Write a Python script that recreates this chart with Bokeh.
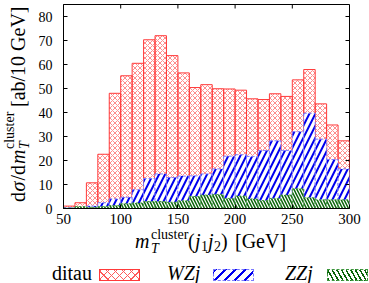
import numpy as np
from bokeh.plotting import figure
from bokeh.models import Range1d, FixedTicker, ColumnDataSource, Div
from bokeh.layouts import column, row
from bokeh.embed import file_html
from bokeh.resources import INLINE

# ---------------- data ----------------
bin_low = [50, 60, 70, 80, 90, 100, 110, 120, 130, 140, 150, 160, 170, 180, 190,
           200, 210, 220, 230, 240, 250, 260, 270, 280, 290]
bin_width = 10
ditau = [1.0, 2.4, 10.7, 22.6, 48.0, 55.3, 60.5, 70.3, 72.0, 63.7, 56.5, 50.4, 51.6,
         49.9, 49.8, 49.3, 45.7, 45.4, 47.8, 46.7, 53.6, 57.9, 43.6, 34.8, 28.2]
wzj = [0.3, 0.4, 1.0, 2.4, 4.0, 4.7, 7.8, 12.5, 14.4, 12.9, 13.5, 13.6, 14.4, 16.5,
       21.8, 22.4, 21.7, 24.2, 28.2, 24.2, 32.0, 39.7, 28.9, 20.4, 16.5]
zzj = [0.2, 0.8, 0.5, 0.8, 1.2, 2.0, 2.3, 2.9, 2.9, 2.6, 3.2, 5.0, 5.6, 5.8, 4.2,
       5.2, 4.0, 3.3, 4.2, 5.6, 8.2, 4.5, 3.6, 3.6, 3.6]
x_ticks = [50, 100, 150, 200, 250, 300]
y_ticks = [0, 10, 20, 30, 40, 50, 60, 70, 80]
legend_labels = ["ditau", "WZj", "ZZj"]

# ---------------- layout ----------------
FONT = "Liberation Serif"
TOTAL_W, TOTAL_H = 369, 283
YL_W = 32                      # strip holding the rotated y label
MAIN_W = TOTAL_W - YL_W
MAIN_H = 230
BOT_H = TOTAL_H - MAIN_H
BL, BR, BT, BB = 31, 20, 4, 22
X0, X1 = 50, 300
Y0, Y1 = 0, 85
fw = MAIN_W - BL - BR
fh = MAIN_H - BT - BB

RED_LINE, RED_HATCH = "#ff3a3a", "#ff5a5a"
BLUE_LINE, BLUE_HATCH = "#7a7aff", "#0000ee"
GREEN_LINE, GREEN_HATCH = "#3c963c", "#0a640a"

red_style = dict(fill_color=None, line_color=RED_LINE, line_width=1,
                 hatch_pattern="x", hatch_color=RED_HATCH, hatch_scale=5,
                 hatch_weight=0.7)
blue_style = dict(fill_color="white", line_color=BLUE_LINE, line_width=1,
                  line_dash="3 2", hatch_pattern="/", hatch_color=BLUE_HATCH,
                  hatch_scale=12, hatch_weight=2)
green_style = dict(fill_color="white", line_color=GREEN_LINE, line_width=1,
                   line_dash="2 2", hatch_pattern="\\", hatch_color=GREEN_HATCH,
                   hatch_scale=6, hatch_weight=1.5)

# ---------------- main chart ----------------
p = figure(width=MAIN_W, height=MAIN_H, x_range=Range1d(X0, X1), y_range=Range1d(Y0, Y1),
           output_backend="svg", toolbar_location=None,
           min_border_left=BL, min_border_right=BR, min_border_top=BT,
           min_border_bottom=BB)
p.grid.visible = False
p.outline_line_color = "black"
p.outline_line_width = 1
p.background_fill_color = "white"
p.border_fill_color = "white"

src = ColumnDataSource(dict(
    left=bin_low,
    right=[b + bin_width for b in bin_low],
    ditau=ditau, wzj=wzj, zzj=zzj,
))
p.quad(left="left", right="right", bottom=0, top="ditau", source=src, **red_style)
p.quad(left="left", right="right", bottom=0, top="wzj", source=src, **blue_style)
p.quad(left="left", right="right", bottom=0, top="zzj", source=src, **green_style)

for ax, ticks, size, standoff in ((p.xaxis, x_ticks, "15px", 5), (p.yaxis, y_ticks, "14px", 11)):
    ax.ticker = FixedTicker(ticks=ticks)
    ax.major_tick_in = 4
    ax.major_tick_out = 0
    ax.minor_tick_in = 0
    ax.minor_tick_out = 0
    ax.axis_line_color = "black"
    ax.major_tick_line_color = "black"
    ax.major_label_text_font = FONT
    ax.major_label_text_font_size = size
    ax.major_label_text_color = "black"
    ax.major_label_standoff = standoff

# mirrored ticks on top and right
tick_dy = 4 * (Y1 - Y0) / fh
tick_dx = 4 * (X1 - X0) / fw
p.segment(x0=x_ticks, y0=[Y1] * len(x_ticks), x1=x_ticks, y1=[Y1 - tick_dy] * len(x_ticks),
          line_color="black", line_width=1)
p.segment(x0=[X1] * len(y_ticks), y0=y_ticks, x1=[X1 - tick_dx] * len(y_ticks), y1=y_ticks,
          line_color="black", line_width=1)

# ---------------- HTML text helpers ----------------
ASC = 0.8375   # baseline offset (fraction of font size) with line-height 1


def span(left, baseline, text, size=20, italic=False):
    top = baseline - ASC * size
    st = "italic" if italic else "normal"
    return (f'<span style="position:absolute;left:{left:.1f}px;top:{top:.1f}px;'
            f'font-size:{size}px;line-height:1;font-style:{st};white-space:nowrap">'
            f'{text}</span>')


def box(left, top, w, h, border, background):
    return (f'<span style="position:absolute;left:{left}px;top:{top}px;width:{w}px;'
            f'height:{h}px;box-sizing:border-box;border:{border};'
            f'background:{background}"></span>')


def wrap(inner, w, h, extra=""):
    return (f'<div style="position:relative;width:{w}px;height:{h}px;margin:0;padding:0;'
            f'font-family:\'{FONT}\',serif;color:black;overflow:visible;{extra}">'
            f'{inner}</div>')


div_css = {"margin": "0", "padding": "0", "overflow": "visible"}

# ---------------- y label (rotated) ----------------
# local coordinates of the rotated box: u = MAIN_H - page_y, v = page_x
def yspan(page_x_base, page_y_start, text, size=20, italic=False):
    return span(MAIN_H - page_y_start, page_x_base, text, size, italic)


yb = 25
ypieces = "".join([
    yspan(yb, 202, "d"),
    yspan(yb, 191.5, "σ", italic=True),
    yspan(yb, 180.5, "/d"),
    yspan(yb, 164, "m", italic=True),
    yspan(yb + 5, 149, "T", size=14, italic=True),
    yspan(yb - 10, 149, "cluster", size=14),
    yspan(yb, 107, "[ab/10 GeV]"),
])
rot = (f'<div style="position:absolute;left:0;top:{MAIN_H}px;width:{MAIN_H}px;height:{YL_W}px;'
       f'transform-origin:0 0;transform:rotate(-90deg)">{ypieces}</div>')
ydiv = Div(text=wrap(rot, YL_W, MAIN_H), width=YL_W, height=MAIN_H,
           margin=(0, 0, 0, 0), styles=div_css)

# ---------------- x label + legend ----------------
OX, OY = YL_W, MAIN_H   # page offset of the bottom strip


def bspan(px, py, text, size=20, italic=False):
    return span(px - OX, py - OY, text, size, italic)


xb = 248
pieces = [
    bspan(135, xb, "m", italic=True),
    bspan(151, xb + 6, "T", size=14, italic=True),
    bspan(151, xb - 8.5, "cluster", size=14),
    bspan(188, xb, "("),
    bspan(195, xb, "j", italic=True),
    bspan(201, xb + 4, "1", size=14),
    bspan(208, xb, "j", italic=True),
    bspan(214, xb + 4, "2", size=14),
    bspan(221, xb, ")"),
    bspan(235, xb, "[GeV]"),
]

red_bg = (f"repeating-linear-gradient(45deg,{RED_HATCH} 0 0.8px,transparent 0.8px 5.6px),"
          f"repeating-linear-gradient(-45deg,{RED_HATCH} 0 0.8px,transparent 0.8px 5.6px),white")
blue_bg = f"repeating-linear-gradient(135deg,{BLUE_HATCH} 0 2px,transparent 2px 7px),white"
green_bg = f"repeating-linear-gradient(60deg,{GREEN_HATCH} 0 1.5px,transparent 1.5px 4px),white"
swatches = [
    (f"1px solid {RED_LINE}", red_bg),
    (f"1px dashed {BLUE_LINE}", blue_bg),
    (f"1px dashed {GREEN_LINE}", green_bg),
]
text_x = [52, 167, 285]
box_x = [99, 213, 327]
box_w, box_h = 41, 12
for i, lbl in enumerate(legend_labels):
    pieces.append(bspan(text_x[i], 280, lbl, italic=(i > 0)))
    border, bg = swatches[i]
    pieces.append(box(box_x[i] - OX, 269 - OY, box_w, box_h, border, bg))

bdiv = Div(text=wrap("".join(pieces), MAIN_W, BOT_H), width=MAIN_W, height=BOT_H,
           margin=(0, 0, 0, 0), styles=div_css)

layout = row(ydiv, column(p, bdiv))
open("out.html", "w").write(file_html(layout, INLINE))
